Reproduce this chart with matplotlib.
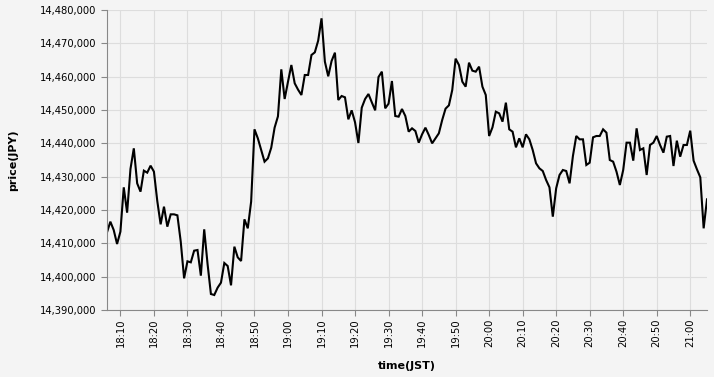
import matplotlib
matplotlib.use("Agg")
import matplotlib.pyplot as plt
import matplotlib.dates as mdates
from matplotlib.ticker import FuncFormatter, MultipleLocator
import pandas as pd

# one price per minute, 18:06 - 21:05 JST
start_time = "2024-01-01 18:06"
prices = [
    14413300, 14416500, 14414000, 14409800, 14413500, 14426800, 14419200, 14432300,
    14438500, 14428000, 14425500, 14431800, 14431200, 14433300, 14431500, 14422700,
    14415700, 14421000, 14415000, 14418700, 14418700, 14418400, 14410500, 14399500,
    14404600, 14404300, 14407800, 14408000, 14400300, 14414200, 14403800, 14394800,
    14394500, 14396700, 14398200, 14404100, 14403200, 14397400, 14409000, 14405800,
    14404700, 14417200, 14414500, 14422500, 14444200, 14441500, 14438000, 14434500,
    14435500, 14438700, 14444700, 14448100, 14462200, 14453300, 14458500, 14463500,
    14458000, 14456100, 14454500, 14460500, 14460500, 14466500, 14467300, 14470800,
    14477500, 14464500, 14460100, 14464700, 14467200, 14453000, 14454200, 14453800,
    14447200, 14449900, 14446300, 14440100, 14450700, 14453300, 14454800, 14452300,
    14449900, 14459900, 14461500, 14450500, 14451900, 14458700, 14448200, 14448000,
    14450300, 14448200, 14443500, 14444500, 14443700, 14440200, 14442700, 14444700,
    14442500, 14440000, 14441500, 14443000, 14447000, 14450400, 14451400, 14456000,
    14465400, 14463500, 14458500, 14457000, 14464200, 14461800, 14461500, 14463000,
    14457000, 14454500, 14442200, 14444800, 14449500, 14449000, 14446500, 14452200,
    14444200, 14443500, 14438800, 14441500, 14438800, 14442700, 14441200, 14438000,
    14434000, 14432500, 14431700, 14429000, 14426800, 14418000, 14426500, 14430500,
    14432000, 14431700, 14428000, 14436200, 14442200, 14441200, 14441200, 14433500,
    14434200, 14441800, 14442200, 14442200, 14444200, 14443200, 14435000, 14434500,
    14431500, 14427500, 14432000, 14440200, 14440200, 14434800, 14444500, 14438000,
    14438500, 14430500, 14439500, 14440200, 14442200, 14439500, 14437200, 14442000,
    14442200, 14433200, 14440800, 14436000, 14439500, 14439500, 14443800, 14434800,
    14432200, 14429800, 14414500, 14423200,
]
times = pd.date_range(start_time, periods=len(prices), freq="min")

bg = "#f4f4f4"
fig = plt.figure(figsize=(7.14, 3.77), dpi=100, facecolor=bg)
ax = fig.add_axes([107 / 714, 67 / 377, 600 / 714, 300 / 377], facecolor=bg)

ax.plot(times, prices, color="black", lw=1.5, solid_joinstyle="miter")

ax.set_xlim(times[0], times[-1])
ax.set_ylim(14390000, 14480000)
ax.yaxis.set_major_locator(MultipleLocator(10000))
ax.yaxis.set_major_formatter(FuncFormatter(lambda v, p: f"{int(v):,}"))
ax.xaxis.set_major_locator(mdates.MinuteLocator(byminute=range(0, 60, 10)))
ax.xaxis.set_major_formatter(mdates.DateFormatter("%H:%M"))

ax.grid(True, color="#dddddd", lw=0.8)
ax.set_axisbelow(True)
for s in ["top", "right"]:
    ax.spines[s].set_visible(False)
for s in ["left", "bottom"]:
    ax.spines[s].set_color("#888888")
    ax.spines[s].set_linewidth(0.8)

ax.tick_params(axis="both", colors="#888888", length=4, width=0.8,
               labelcolor="black", labelsize=7.2)
ax.tick_params(axis="x", pad=2)
for lbl in ax.get_xticklabels():
    lbl.set_rotation(90)

ax.set_xlabel("time(JST)", fontsize=8, fontweight="bold", labelpad=10)
ax.set_ylabel("price(JPY)", fontsize=8, fontweight="bold", labelpad=16)

fig.savefig("out.png", dpi=100, facecolor=bg)
